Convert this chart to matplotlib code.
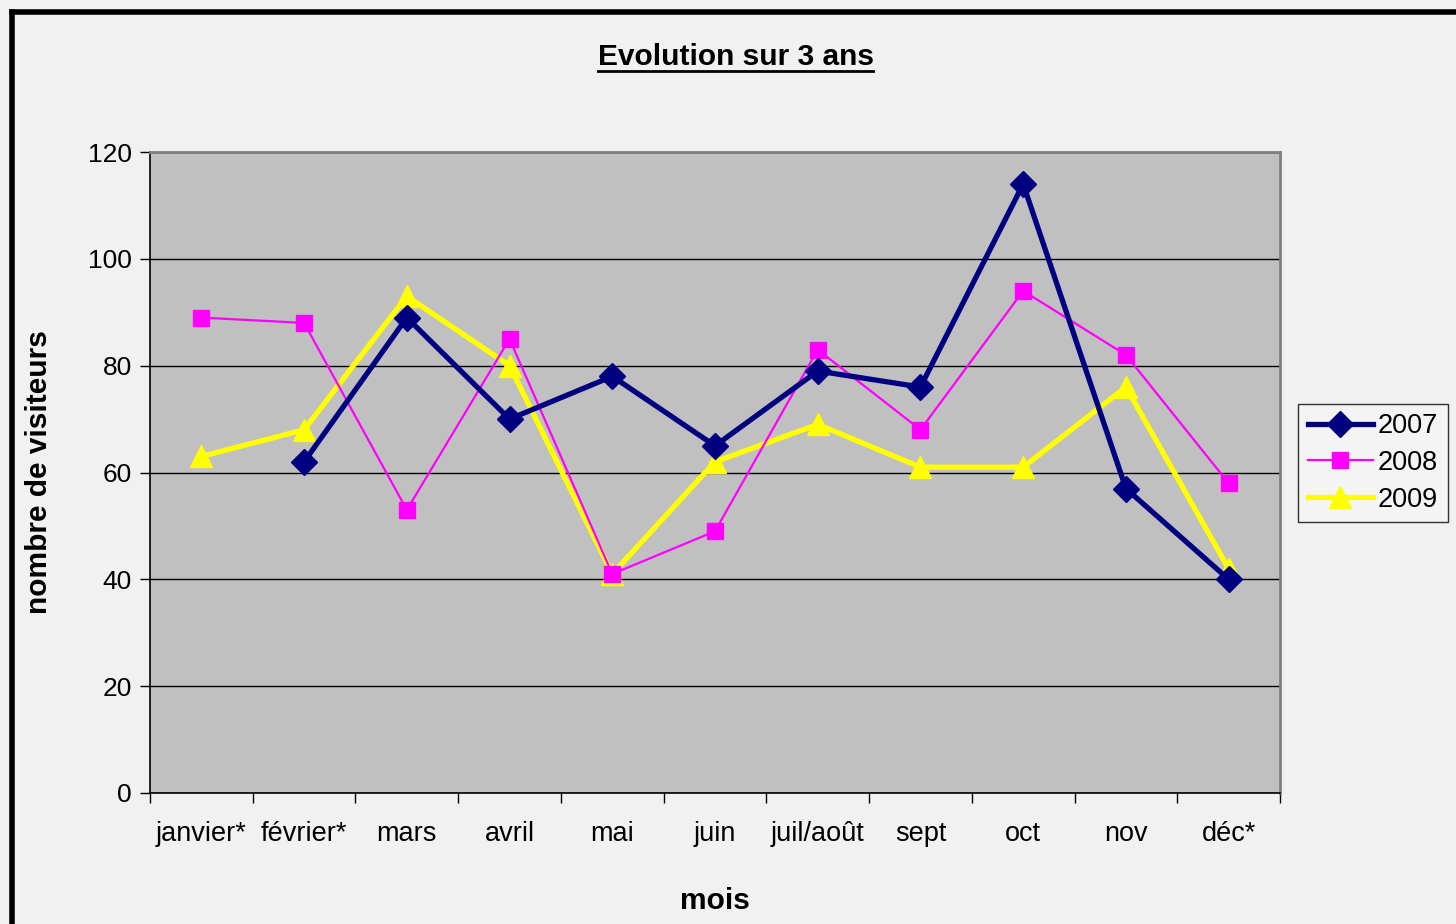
import numpy as np
import matplotlib.pyplot as plt
from matplotlib.lines import Line2D

plt.rcParams['font.family'] = ['Liberation Sans', 'DejaVu Sans']

mois = ['janvier*', 'février*', 'mars', 'avril', 'mai', 'juin',
        'juil/août', 'sept', 'oct', 'nov', 'déc*']
v2007 = [np.nan, 62, 89, 70, 78, 65, 79, 76, 114, 57, 40]
v2008 = [89, 88, 53, 85, 41, 49, 83, 68, 94, 82, 58]
v2009 = [63, 68, 93, 80, 41, 62, 69, 61, 61, 76, 42]
yticks = [0, 20, 40, 60, 80, 100, 120]

fig = plt.figure(figsize=(14.56, 9.24), dpi=100)
fig.patch.set_facecolor('#f1f1f1')
ax = fig.add_axes([150/1456, 1-793/924, 1130/1456, 641/924])
ax.set_facecolor('#c0c0c0')

x = np.arange(len(mois))
ax.plot(x, v2007, color='#000080', lw=3.8, marker='D', ms=13, label='2007', zorder=5)
ax.plot(x, v2008, color='#ff00ff', lw=1.6, marker='s', ms=11.5, label='2008', zorder=4)
ax.plot(x, v2009, color='#ffff00', lw=3.8, marker='^', ms=16, label='2009', zorder=3)

ax.set_xlim(-0.5, len(mois) - 0.5)
ax.set_ylim(0, 120)
ax.set_yticks(yticks)
ax.set_yticklabels([str(v) for v in yticks], fontsize=19)
ax.yaxis.grid(True, color='black', lw=1)
ax.set_axisbelow(True)

ax.set_xticks(x)
ax.set_xticklabels(mois, fontsize=19.5)
ax.set_xticks(np.arange(-0.5, len(mois)), minor=True)
ax.tick_params(axis='x', which='major', length=0, pad=20)
ax.tick_params(axis='x', which='minor', length=7, width=1, direction='out')
ax.tick_params(axis='y', length=7, width=1, direction='out', pad=6)

for s in ['top', 'right']:
    ax.spines[s].set_color('#808080')
    ax.spines[s].set_linewidth(2)
for s in ['left', 'bottom']:
    ax.spines[s].set_color('black')
    ax.spines[s].set_linewidth(1.2)

ax.set_xlabel('mois', fontsize=21.5, fontweight='bold', labelpad=29)
ax.set_ylabel('nombre de visiteurs', fontsize=21.5, fontweight='bold', labelpad=25)

fig.text(736/1456, 1-57/924, 'Evolution sur 3 ans', fontsize=21.5, fontweight='bold',
         ha='center', va='center')
# underline of the title
fig.add_artist(Line2D([598/1456, 873/1456], [1-71/924, 1-71/924], color='black', lw=2))

leg = ax.legend(loc='center left', bbox_to_anchor=(1.016, 0.515), fontsize=19.5,
                frameon=True, fancybox=False, handlelength=2.4, handletextpad=0.2,
                borderpad=0.35, labelspacing=0.4, borderaxespad=0)
leg.get_frame().set_edgecolor('black')
leg.get_frame().set_facecolor('#f6f6f6')
leg.get_frame().set_linewidth(1)

# chart frame (left and top edges visible)
fig.add_artist(Line2D([12/1456, 12/1456], [0, 1-12/924], color='black', lw=4))
fig.add_artist(Line2D([12/1456, 1], [1-12/924, 1-12/924], color='black', lw=4))

fig.savefig('out.png', dpi=100, facecolor=fig.get_facecolor())
